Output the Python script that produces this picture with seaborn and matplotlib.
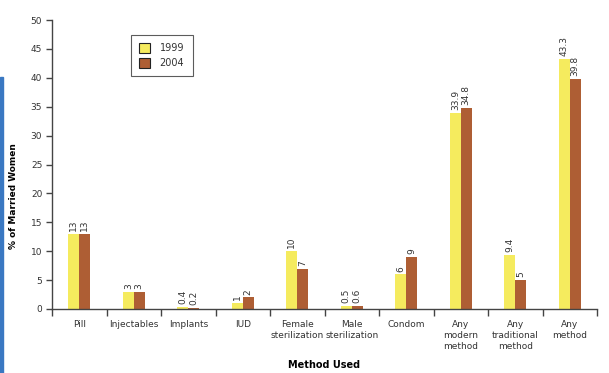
import matplotlib
matplotlib.use("Agg")
import matplotlib.pyplot as plt
import seaborn as sns
import pandas as pd
from matplotlib.patches import Rectangle
from matplotlib.ticker import FixedLocator

categories = ["Pill", "Injectables", "Implants", "IUD", "Female\nsterilization",
              "Male\nsterilization", "Condom", "Any\nmodern\nmethod",
              "Any\ntraditional\nmethod", "Any\nmethod"]
v1999 = [13, 3, 0.4, 1, 10, 0.5, 6, 33.9, 9.4, 43.3]
v2004 = [13, 3, 0.2, 2, 7, 0.6, 9, 34.8, 5, 39.8]
years = ["1999", "2004"]
colors = ["#F5EB5E", "#AE5E34"]

df = pd.DataFrame({
    "Method": categories * 2,
    "Year": [years[0]] * len(categories) + [years[1]] * len(categories),
    "Value": v1999 + v2004,
})

sns.set_style("white")
plt.rcParams["font.family"] = ["DejaVu Sans"]
text_color = "#333333"

fig = plt.figure(figsize=(6.09, 3.73), dpi=100)
ax = fig.add_axes([52 / 609, 64 / 373, (597 - 52) / 609, (309 - 20) / 373])

sns.barplot(data=df, x="Method", y="Value", hue="Year", palette=colors,
            width=0.4, ax=ax, saturation=1, edgecolor="none")

for cont in ax.containers:
    ax.bar_label(cont, labels=[f"{v:g}" for v in cont.datavalues], rotation=90,
                 padding=2, fontsize=6.5, color=text_color)

ax.set_xlim(-0.5, len(categories) - 0.5)
ax.set_ylim(0, 50)
ax.set_yticks(range(0, 51, 5))
ax.tick_params(axis="y", direction="out", length=4, width=1, color="#444444",
               labelsize=6.5, labelcolor=text_color, pad=3, left=True)
ax.tick_params(axis="x", which="major", length=0, labelsize=6.5,
               labelcolor=text_color, pad=8)
ax.xaxis.set_minor_locator(FixedLocator([i - 0.5 for i in range(len(categories) + 1)]))
ax.tick_params(axis="x", which="minor", direction="out", length=5, width=1,
               color="#444444", bottom=True)
ax.set_xticks(range(len(categories)))
ax.set_xticklabels(categories, linespacing=1.3)

for s in ["top", "right"]:
    ax.spines[s].set_visible(False)
for s in ["left", "bottom"]:
    ax.spines[s].set_color("#444444")
    ax.spines[s].set_linewidth(1)

ax.set_xlabel("Method Used", fontsize=7, fontweight="bold", color="black", labelpad=6)
ax.set_ylabel("% of Married Women", fontsize=6.5, fontweight="bold", color="black")
ax.yaxis.set_label_coords(-0.062, 0.39)

leg = ax.legend(loc="upper left", bbox_to_anchor=(0.145, 0.948), frameon=True,
                fontsize=7, fancybox=False, edgecolor="#333333", borderaxespad=0,
                handlelength=1.1, handleheight=1.1, borderpad=0.85, labelspacing=0.5,
                handletextpad=1.0)
leg.get_frame().set_linewidth(0.8)
for h in leg.legend_handles:
    h.set_edgecolor("#222222")
    h.set_linewidth(0.8)
for t in leg.get_texts():
    t.set_color(text_color)

fig.patches.append(Rectangle((0, 0), 2.5 / 609, 296 / 373, transform=fig.transFigure,
                             color="#3A78C2", zorder=5))

fig.savefig("out.png", dpi=100)
